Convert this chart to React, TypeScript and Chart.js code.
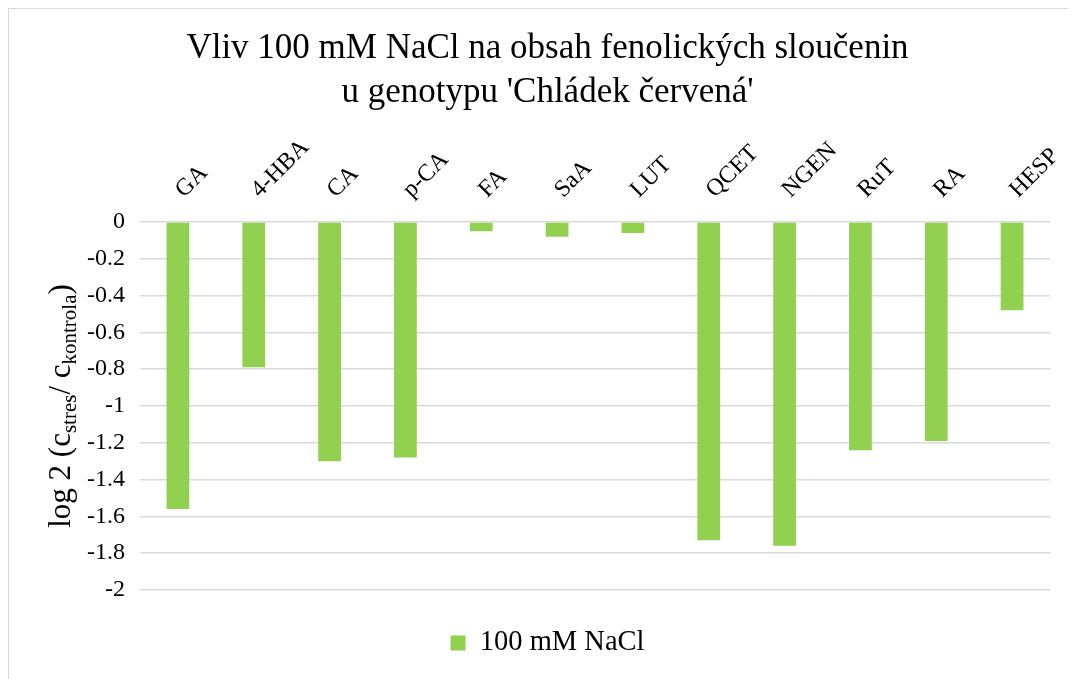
import React, { useEffect, useRef } from "react";
import { Chart, registerables } from "chart.js";

Chart.register(...registerables);

const FONT = "'Liberation Serif', 'Times New Roman', serif";

const categories = ["GA", "4-HBA", "CA", "p-CA", "FA", "SaA", "LUT", "QCET", "NGEN", "RuT", "RA", "HESP"];
const nacl100 = [-1.56, -0.79, -1.30, -1.28, -0.05, -0.08, -0.06, -1.73, -1.76, -1.24, -1.19, -0.48];
const seriesLabel = "100 mM NaCl";
const titleLines = ["Vliv 100 mM NaCl na obsah fenolických sloučenin", "u genotypu 'Chládek červená'"];
const yTitleParts: { text: string; sub: boolean }[] = [
  { text: "log 2 (c", sub: false },
  { text: "stres", sub: true },
  { text: "/ c", sub: false },
  { text: "kontrola", sub: true },
  { text: ")", sub: false },
];
const yMin = -2;
const yMax = 0;
const yStep = 0.2;

const yTitlePlugin = {
  id: "yTitleSub",
  afterDraw(chart: any) {
    const { ctx, chartArea } = chart;
    const mainFont = `31px ${FONT}`;
    const subFont = `21px ${FONT}`;
    ctx.save();
    let total = 0;
    const widths = yTitleParts.map((p) => {
      ctx.font = p.sub ? subFont : mainFont;
      const w = ctx.measureText(p.text).width;
      total += w;
      return w;
    });
    const cx = 61;
    const cy = (chartArea.top + chartArea.bottom) / 2;
    ctx.translate(cx, cy);
    ctx.rotate(-Math.PI / 2);
    ctx.fillStyle = "#000000";
    ctx.textBaseline = "alphabetic";
    ctx.textAlign = "left";
    let x = -total / 2;
    yTitleParts.forEach((p, i) => {
      ctx.font = p.sub ? subFont : mainFont;
      ctx.fillText(p.text, x, p.sub ? 6 : 0);
      x += widths[i];
    });
    ctx.restore();
  },
};

export default function App() {
  const ref = useRef<HTMLCanvasElement>(null);
  useEffect(() => {
    document.documentElement.style.overflow = "hidden";
    const chart = new Chart(ref.current!, {
      type: "bar",
      data: {
        labels: categories,
        datasets: [
          {
            label: seriesLabel,
            data: nacl100,
            backgroundColor: "#92D050",
            barPercentage: 0.3,
            categoryPercentage: 1,
          },
        ],
      },
      options: {
        animation: false,
        responsive: false,
        devicePixelRatio: 1,
        layout: { padding: { left: 36, right: 26, top: 0, bottom: 11.75 } },
        plugins: {
          title: {
            display: true,
            text: titleLines,
            color: "#000000",
            font: { family: FONT, size: 35, weight: "normal", lineHeight: 1.25 },
            padding: { top: 18.3, bottom: 0 },
          },
          legend: {
            display: true,
            position: "bottom",
            labels: {
              color: "#000000",
              font: { family: FONT, size: 28.5 },
              boxWidth: 15,
              boxHeight: 15,
              padding: 38.75,
            },
          },
          tooltip: { enabled: false },
        },
        scales: {
          x: {
            position: "top",
            grid: { display: false, drawTicks: false },
            border: { display: false },
            ticks: {
              color: "#000000",
              font: { family: FONT, size: 24 },
              minRotation: 45,
              maxRotation: 45,
              padding: 18,
              labelOffset: 22,
              autoSkip: false,
            },
            afterFit: (s: any) => {
              s.height = 107.2;
              s.paddingLeft = 0;
              s.paddingRight = 0;
            },
          },
          y: {
            min: yMin,
            max: yMax,
            grid: { color: "#d9d9d9", lineWidth: 1.5, drawTicks: false },
            border: { display: false },
            ticks: {
              stepSize: yStep,
              color: "#000000",
              font: { family: FONT, size: 24 },
              padding: 15,
              callback: (v: any) => String(Number(Number(v).toFixed(1))),
            },
            afterFit: (s: any) => {
              s.width = 95;
            },
          },
        },
      },
      plugins: [yTitlePlugin],
    } as any);
    return () => chart.destroy();
  }, []);
  return (
    <div
      style={{
        width: 1067,
        height: 670,
        borderLeft: "1px solid #d9d9d9",
        borderTop: "1px solid #d9d9d9",
        background: "#ffffff",
      }}
    >
      <canvas ref={ref} width={1067} height={670} style={{ display: "block" }} />
    </div>
  );
}
